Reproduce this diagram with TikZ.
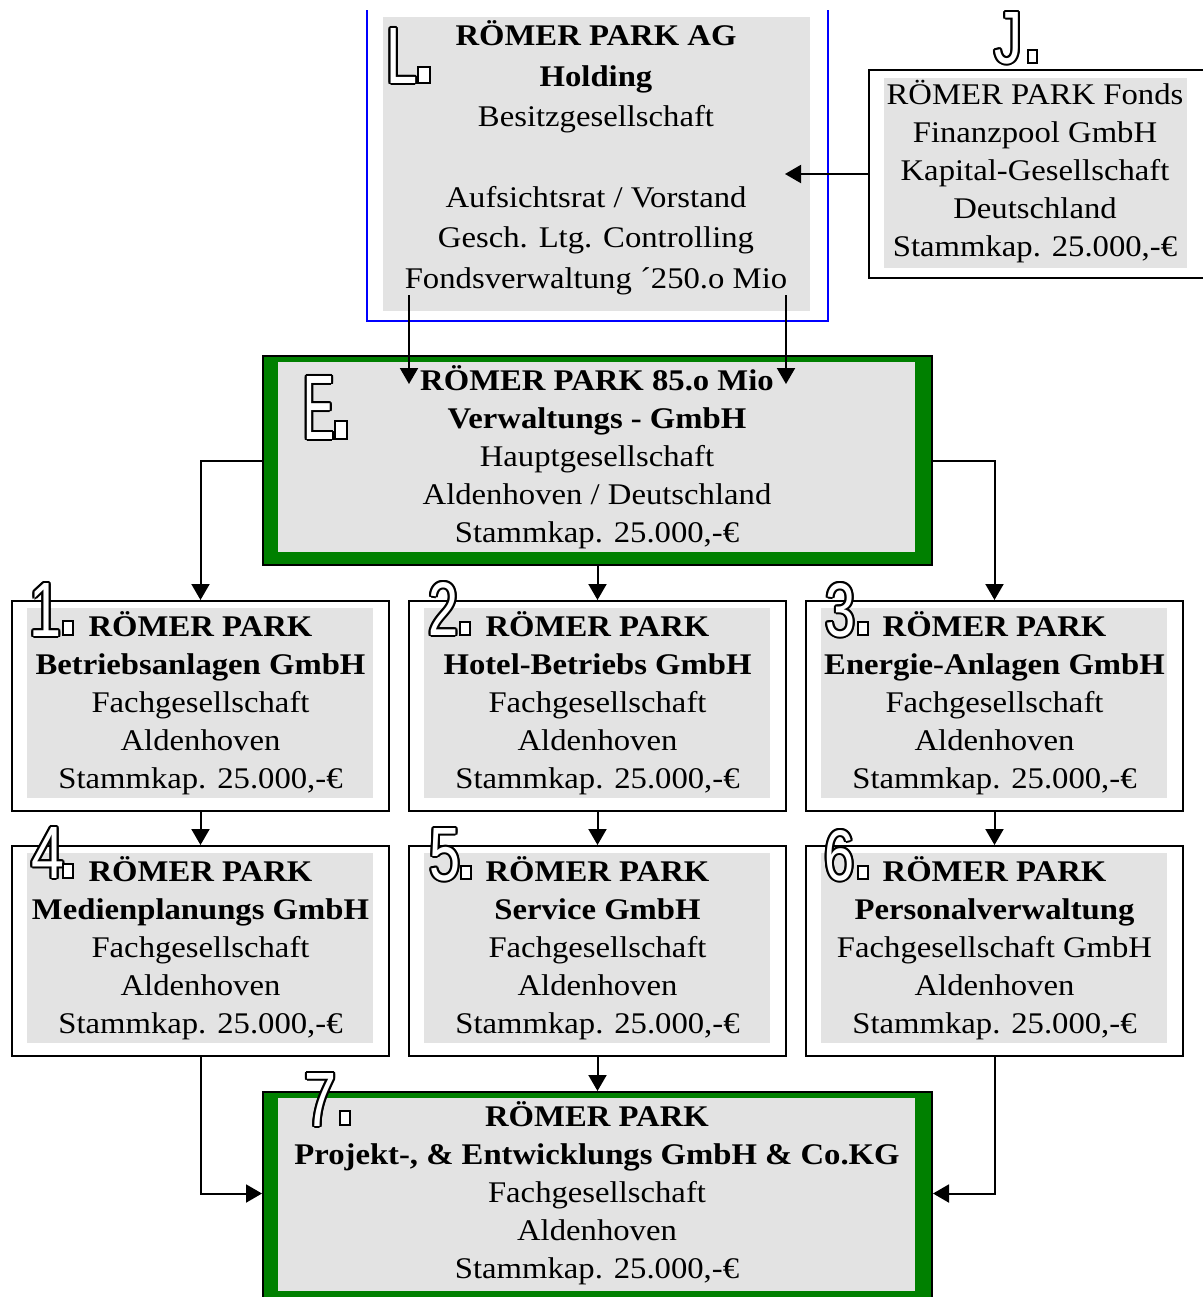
\documentclass[tikz,border=0pt]{standalone}
\usepackage{fontspec}
\usepackage{graphicx}
\setmainfont{Liberation Serif}[FakeStretch=1.09]
\newfontfamily\lblf{Liberation Sans}
\usetikzlibrary{arrows.meta,calc}
\definecolor{boxgray}{RGB}{227,227,227}
\definecolor{dgreen}{RGB}{0,128,0}
\tikzset{
  arr/.style={line width=1pt,-{Triangle[length=8pt,width=9pt]}},
  conn/.style={line width=1pt},
  outerbox/.style={draw=black,line width=1pt,inner sep=0pt},
  greenbox/.style={draw=black,line width=1pt,fill=dgreen,inner sep=0pt},
  txt/.style={font=\fontsize{15pt}{19pt}\selectfont,align=center,inner sep=0pt,anchor=base},
  ltxt/.style={font=\fontsize{15pt}{20.2pt}\selectfont,align=center,inner sep=0pt,anchor=base},
  lbl/.style={anchor=base west,inner sep=0pt},
  sq/.style={draw=black,fill=white,line width=0.7pt},
}
\newcommand{\olabel}[5]{%
  \foreach \a in {0,30,...,330}{\node[lbl,text=black] at ($(#2)+(\a:2)$) {\resizebox{#4pt}{#5pt}{\lblf #3}};}
  \node[lbl,text=white] (#1) at (#2) {\resizebox{#4pt}{#5pt}{\lblf #3}};}
\begin{document}
\begin{tikzpicture}[x=0.5pt,y=-0.5pt]
\useasboundingbox (0,0) rectangle (1203,1297);
\clip (0,0) rectangle (1203,1297);

% ---- L box (holding)
\draw[blue,line width=1pt] (367,10) -- (367,321) -- (828,321) -- (828,10);
\node[fill=boxgray,inner sep=0pt,minimum width=213.5pt,minimum height=147pt] (L) at (596.5,164) {};
\node[ltxt] (tL) at (596,288) {\textbf{RÖMER PARK AG}\\\textbf{Holding}\\Besitzgesellschaft\\[20.2pt]Aufsichtsrat / Vorstand\\Gesch. Ltg. Controlling\\Fondsverwaltung ´250.o Mio};

% ---- J box (fonds)
\node[outerbox,minimum width=173pt,minimum height=104pt] (J) at (1042,174) {};
\fill[boxgray] ($(J.north west)+(16,9)$) rectangle ($(J.south east)+(-29,-11)$);
\node[txt] (tJ) at (1035,256.5) {RÖMER PARK Fonds\\Finanzpool GmbH\\Kapital-Gesellschaft\\Deutschland\\Stammkap. 25.000,-€};

% ---- E box (main)
\node[greenbox,minimum width=334.5pt,minimum height=104.5pt] (E) at (597.5,460.5) {};
\fill[boxgray] ($(E.north west)+(16,7)$) rectangle ($(E.south east)+(-18,-14)$);
\node[txt] (tE) at (597,542.5) {\textbf{RÖMER PARK 85.o Mio}\\\textbf{Verwaltungs - GmbH}\\Hauptgesellschaft\\Aldenhoven / Deutschland\\Stammkap. 25.000,-€};

% ---- row boxes
\foreach \n/\cx/\cy in {b1/200.5/706,b2/597.5/706,b3/994.5/706,b4/200.5/951,b5/597.5/951,b6/994.5/951}{
  \node[outerbox,minimum width=188.5pt,minimum height=105pt] (\n) at (\cx,\cy) {};
  \fill[boxgray] ($(\n.north west)+(16,8)$) rectangle ($(\n.south east)+(-17,-14)$);
}
\node[txt] (t1) at (200.5,788) {\textbf{RÖMER PARK}\\\textbf{Betriebsanlagen GmbH}\\Fachgesellschaft\\Aldenhoven\\Stammkap. 25.000,-€};
\node[txt] (t2) at (597.5,788) {\textbf{RÖMER PARK}\\\textbf{Hotel-Betriebs GmbH}\\Fachgesellschaft\\Aldenhoven\\Stammkap. 25.000,-€};
\node[txt] (t3) at (994.5,788) {\textbf{RÖMER PARK}\\\textbf{Energie-Anlagen GmbH}\\Fachgesellschaft\\Aldenhoven\\Stammkap. 25.000,-€};
\node[txt] (t4) at (200.5,1033) {\textbf{RÖMER PARK}\\\textbf{Medienplanungs GmbH}\\Fachgesellschaft\\Aldenhoven\\Stammkap. 25.000,-€};
\node[txt] (t5) at (597.5,1033) {\textbf{RÖMER PARK}\\\textbf{Service GmbH}\\Fachgesellschaft\\Aldenhoven\\Stammkap. 25.000,-€};
\node[txt] (t6) at (994.5,1033) {\textbf{RÖMER PARK}\\\textbf{Personalverwaltung}\\Fachgesellschaft GmbH\\Aldenhoven\\Stammkap. 25.000,-€};

% ---- P box (project)
\node[greenbox,minimum width=334.5pt,minimum height=103.5pt] (P) at (597.5,1195.5) {};
\fill[boxgray] ($(P.north west)+(16,7)$) rectangle ($(P.south east)+(-18,-9)$);
\node[txt] (tP) at (597,1278.5) {\textbf{RÖMER PARK}\\\textbf{Projekt-, \& Entwicklungs GmbH \& Co.KG}\\Fachgesellschaft\\Aldenhoven\\Stammkap. 25.000,-€};

% ---- connectors
\coordinate (La) at (409,295);
\coordinate (Lb) at (786,295);
\coordinate (Ea) at (409,384);
\coordinate (Eb) at (786,384);
\coordinate (Lin) at (785,174);
\draw[arr] (La) -- (Ea);
\draw[arr] (Lb) -- (Eb);
\draw[arr] (J.west) -- (Lin);
\draw[arr] (E.west) -| (b1.north);
\draw[arr] (E.south) -- (b2.north);
\draw[arr] (E.east) -| (b3.north);
\draw[arr] (b1.south) -- (b4.north);
\draw[arr] (b2.south) -- (b5.north);
\draw[arr] (b3.south) -- (b6.north);
\draw[arr] (b4.south) |- ([yshift=1pt]P.west);
\draw[arr] (b5.south) -- (P.north);
\draw[arr] (b6.south) |- ([yshift=1pt]P.east);

% ---- outlined labels and small squares
\olabel{lL}{386,83}{L}{15.5}{27.5}
\olabel{lJ}{994,63}{J}{14}{25.5}
\olabel{lE}{303,439}{E}{15.5}{31.5}
\olabel{l1}{29,636}{1}{16}{26.5}
\olabel{l2}{428,635}{2}{15}{26.5}
\olabel{l3}{825,636}{3}{15}{26.5}
\olabel{l4}{31,878}{4}{16.5}{25.5}
\olabel{l5}{429,880}{5}{15.5}{26}
\olabel{l6}{824,880}{6}{15}{25}
\olabel{l7}{304,1126}{7}{16}{26.5}
\draw[sq] (418,67) rectangle (430,83);
\draw[sq] (1028,50) rectangle (1037,63);
\draw[sq] (335,421) rectangle (347,439);
\draw[sq] (63,621) rectangle (73,635);
\draw[sq] (460,622) rectangle (470,635);
\draw[sq] (858,622) rectangle (868,635);
\draw[sq] (63,864) rectangle (73,878);
\draw[sq] (461,866) rectangle (471,879);
\draw[sq] (858,866) rectangle (868,879);
\draw[sq] (340,1111) rectangle (350,1125);
\end{tikzpicture}
\end{document}
